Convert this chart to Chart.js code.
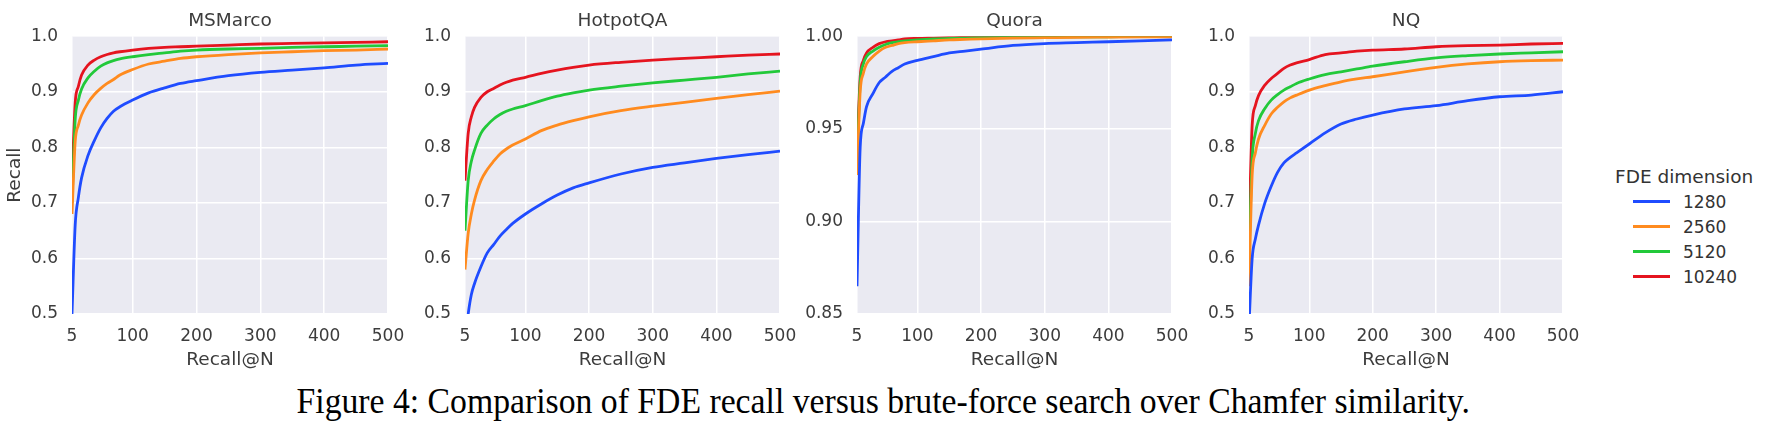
<!DOCTYPE html>
<html>
<head>
<meta charset="utf-8">
<script src="https://cdn.jsdelivr.net/npm/chart.js@4.4.1/dist/chart.umd.min.js"></script>
<style>
  body { margin: 0; background: #fff; width: 1766px; height: 428px; overflow: hidden; position: relative; font-family: 'DejaVu Sans', sans-serif; }
  canvas { position: absolute; top: 0; }
  #legend { position: absolute; left: 1615px; top: 165px; color: #333; }
  #legend .ttl { font-size: 18.5px; line-height: 24px; }
  #legend .item { display: flex; align-items: center; height: 25px; font-size: 17px; padding-left: 18px; }
  #legend .swatch { width: 37px; height: 3px; margin-right: 13px; }
  #caption { position: absolute; top: 382px; left: 0; width: 1766px; text-align: center; }
  #caption span { display: inline-block; font-family: 'Liberation Serif', serif; font-size: 35px; color: #000; transform-origin: center; white-space: nowrap; }
</style>
</head>
<body>
<canvas id="c0"></canvas>
<canvas id="c1"></canvas>
<canvas id="c2"></canvas>
<canvas id="c3"></canvas>
<div id="legend"></div>
<div id="caption"><span>Figure 4: Comparison of FDE recall versus brute-force search over Chamfer similarity.</span></div>
<script>
// x values (N) shared by all panels
const recallN = [5, 10, 15, 20, 30, 40, 50, 60, 70, 80, 100, 125, 150, 175, 200, 250, 300, 350, 400, 450, 500];
const xTicks = [5, 100, 200, 300, 400, 500];
const dims = ['1280', '2560', '5120', '10240'];
const colors = ['#1f4cff', '#ff8b1f', '#22c93a', '#e5141f'];

// MSMarco
const msmarco1280 = [0.50, 0.66, 0.71, 0.745, 0.785, 0.812, 0.835, 0.852, 0.865, 0.873, 0.885, 0.898, 0.907, 0.915, 0.920, 0.929, 0.935, 0.939, 0.943, 0.948, 0.951];
const msmarco2560 = [0.68, 0.81, 0.84, 0.858, 0.88, 0.895, 0.906, 0.915, 0.922, 0.930, 0.940, 0.950, 0.955, 0.960, 0.963, 0.967, 0.970, 0.972, 0.974, 0.975, 0.977];
const msmarco5120 = [0.70, 0.85, 0.885, 0.905, 0.925, 0.937, 0.946, 0.952, 0.956, 0.959, 0.963, 0.967, 0.970, 0.973, 0.975, 0.977, 0.978, 0.980, 0.981, 0.982, 0.983];
const msmarco10240 = [0.74, 0.88, 0.91, 0.93, 0.948, 0.957, 0.963, 0.967, 0.970, 0.972, 0.975, 0.978, 0.980, 0.981, 0.982, 0.984, 0.986, 0.987, 0.988, 0.989, 0.990];

// HotpotQA
const hotpot1280 = [0.45, 0.50, 0.535, 0.555, 0.585, 0.61, 0.625, 0.64, 0.652, 0.663, 0.68, 0.698, 0.714, 0.727, 0.736, 0.752, 0.764, 0.772, 0.780, 0.787, 0.793];
const hotpot2560 = [0.58, 0.645, 0.68, 0.705, 0.74, 0.76, 0.775, 0.788, 0.797, 0.804, 0.815, 0.830, 0.840, 0.848, 0.855, 0.866, 0.874, 0.881, 0.888, 0.895, 0.901];
const hotpot5120 = [0.65, 0.74, 0.775, 0.795, 0.825, 0.84, 0.851, 0.859, 0.865, 0.869, 0.875, 0.884, 0.892, 0.898, 0.903, 0.910, 0.916, 0.921, 0.926, 0.932, 0.937];
const hotpot10240 = [0.74, 0.825, 0.855, 0.872, 0.89, 0.90, 0.906, 0.912, 0.917, 0.921, 0.926, 0.933, 0.939, 0.944, 0.948, 0.953, 0.957, 0.960, 0.963, 0.966, 0.968];

// Quora
const quora1280 = [0.865, 0.94, 0.953, 0.962, 0.969, 0.975, 0.978, 0.981, 0.983, 0.985, 0.987, 0.989, 0.991, 0.992, 0.993, 0.995, 0.996, 0.9965, 0.997, 0.9975, 0.998];
const quora2560 = [0.925, 0.970, 0.980, 0.985, 0.989, 0.992, 0.994, 0.995, 0.996, 0.9965, 0.997, 0.9975, 0.998, 0.9983, 0.9986, 0.999, 0.9992, 0.9994, 0.9995, 0.9996, 0.9997];
const quora5120 = [0.93, 0.975, 0.985, 0.989, 0.992, 0.994, 0.9955, 0.9965, 0.997, 0.9975, 0.998, 0.9985, 0.9988, 0.999, 0.9992, 0.9994, 0.9995, 0.9996, 0.9997, 0.9998, 0.9998];
const quora10240 = [0.935, 0.978, 0.987, 0.991, 0.994, 0.996, 0.997, 0.9975, 0.998, 0.9985, 0.9988, 0.999, 0.9992, 0.9994, 0.9995, 0.9996, 0.9997, 0.9998, 0.9998, 0.9999, 0.9999];

// NQ
const nq1280 = [0.48, 0.60, 0.635, 0.66, 0.70, 0.73, 0.755, 0.772, 0.782, 0.79, 0.806, 0.826, 0.842, 0.851, 0.858, 0.869, 0.875, 0.884, 0.891, 0.894, 0.900];
const nq2560 = [0.55, 0.75, 0.79, 0.815, 0.84, 0.86, 0.872, 0.882, 0.889, 0.894, 0.903, 0.911, 0.918, 0.923, 0.927, 0.936, 0.944, 0.950, 0.954, 0.956, 0.957];
const nq5120 = [0.60, 0.78, 0.825, 0.848, 0.87, 0.885, 0.895, 0.903, 0.909, 0.915, 0.923, 0.931, 0.936, 0.941, 0.946, 0.954, 0.961, 0.965, 0.968, 0.970, 0.972];
const nq10240 = [0.65, 0.84, 0.875, 0.893, 0.912, 0.924, 0.933, 0.942, 0.948, 0.952, 0.958, 0.967, 0.970, 0.973, 0.975, 0.977, 0.981, 0.983, 0.984, 0.986, 0.987];

const panels = [
  { title: 'MSMarco', yTicks: [0.5, 0.6, 0.7, 0.8, 0.9, 1.0], digits: 1, series: [msmarco1280, msmarco2560, msmarco5120, msmarco10240], left: 72, width: 316, yTitle: true },
  { title: 'HotpotQA', yTicks: [0.5, 0.6, 0.7, 0.8, 0.9, 1.0], digits: 1, series: [hotpot1280, hotpot2560, hotpot5120, hotpot10240], left: 465, width: 315 },
  { title: 'Quora', yTicks: [0.85, 0.90, 0.95, 1.00], digits: 2, series: [quora1280, quora2560, quora5120, quora10240], left: 857, width: 315 },
  { title: 'NQ', yTicks: [0.5, 0.6, 0.7, 0.8, 0.9, 1.0], digits: 1, series: [nq1280, nq2560, nq5120, nq10240], left: 1249, width: 314 }
];

const textColor = '#3c3c3c';
const axisW = 72, padR = 20, canvasH = 375, xAxisH = 61;

// grey seaborn-style plot background
const plotBg = {
  id: 'plotBg',
  beforeDraw(chart) {
    const { ctx, chartArea: a } = chart;
    ctx.save();
    ctx.fillStyle = '#eaeaf2';
    ctx.fillRect(a.left, a.top, a.right - a.left, a.bottom - a.top);
    ctx.restore();
  }
};

panels.forEach((p, i) => {
  const cv = document.getElementById('c' + i);
  cv.width = p.width + axisW + padR;
  cv.height = canvasH;
  cv.style.left = (p.left - axisW) + 'px';
  cv.style.width = cv.width + 'px';
  cv.style.height = canvasH + 'px';

  new Chart(cv, {
    type: 'line',
    data: {
      datasets: p.series.map((vals, k) => ({
        label: dims[k],
        data: recallN.map((n, j) => ({ x: n, y: vals[j] })),
        borderColor: colors[k],
        borderWidth: 2.8,
        pointRadius: 0,
        cubicInterpolationMode: 'monotone',
        fill: false
      }))
    },
    options: {
      responsive: false,
      animation: false,
      layout: { padding: { left: 0, right: padR, top: 0, bottom: 0 } },
      plugins: {
        legend: { display: false },
        tooltip: { enabled: false },
        title: {
          display: true, text: p.title, fullSize: false, color: textColor,
          font: { family: 'DejaVu Sans', size: 18.5, weight: 'normal' },
          padding: { top: 10, bottom: 4 }
        }
      },
      scales: {
        x: {
          type: 'linear', min: 5, max: 500,
          afterBuildTicks: ax => { ax.ticks = xTicks.map(v => ({ value: v })); },
          afterFit: ax => { ax.height = xAxisH; ax.paddingLeft = 0; ax.paddingRight = 0; },
          grid: { color: '#ffffff', lineWidth: 1.5, drawTicks: false },
          border: { display: false },
          ticks: { color: textColor, padding: 12, maxRotation: 0, font: { family: 'DejaVu Sans', size: 17 }, callback: v => String(v) },
          title: { display: true, text: 'Recall@N', color: textColor, font: { family: 'DejaVu Sans', size: 18.5 }, padding: { top: 0, bottom: 4 } }
        },
        y: {
          min: p.yTicks[0], max: p.yTicks[p.yTicks.length - 1],
          afterBuildTicks: ax => { ax.ticks = p.yTicks.map(v => ({ value: v })); },
          afterFit: ax => { ax.width = axisW; ax.paddingTop = 0; ax.paddingBottom = 0; },
          grid: { color: '#ffffff', lineWidth: 1.5, drawTicks: false },
          border: { display: false },
          ticks: { color: textColor, padding: 14, font: { family: 'DejaVu Sans', size: 17 }, callback: v => Number(v).toFixed(p.digits) },
          title: { display: !!p.yTitle, text: 'Recall', color: textColor, font: { family: 'DejaVu Sans', size: 18.5 }, padding: { top: 4, bottom: 0 } }
        }
      }
    },
    plugins: [plotBg]
  });
});

// legend
const legend = document.getElementById('legend');
legend.innerHTML = '<div class="ttl">FDE dimension</div>' +
  dims.map((d, k) => '<div class="item"><span class="swatch" style="background:' + colors[k] + '"></span>' + d + '</div>').join('');

// caption is slightly condensed in the reference
const cap = document.querySelector('#caption span');
cap.style.transform = 'scaleX(' + (1173 / cap.offsetWidth).toFixed(3) + ')';
</script>
</body>
</html>
